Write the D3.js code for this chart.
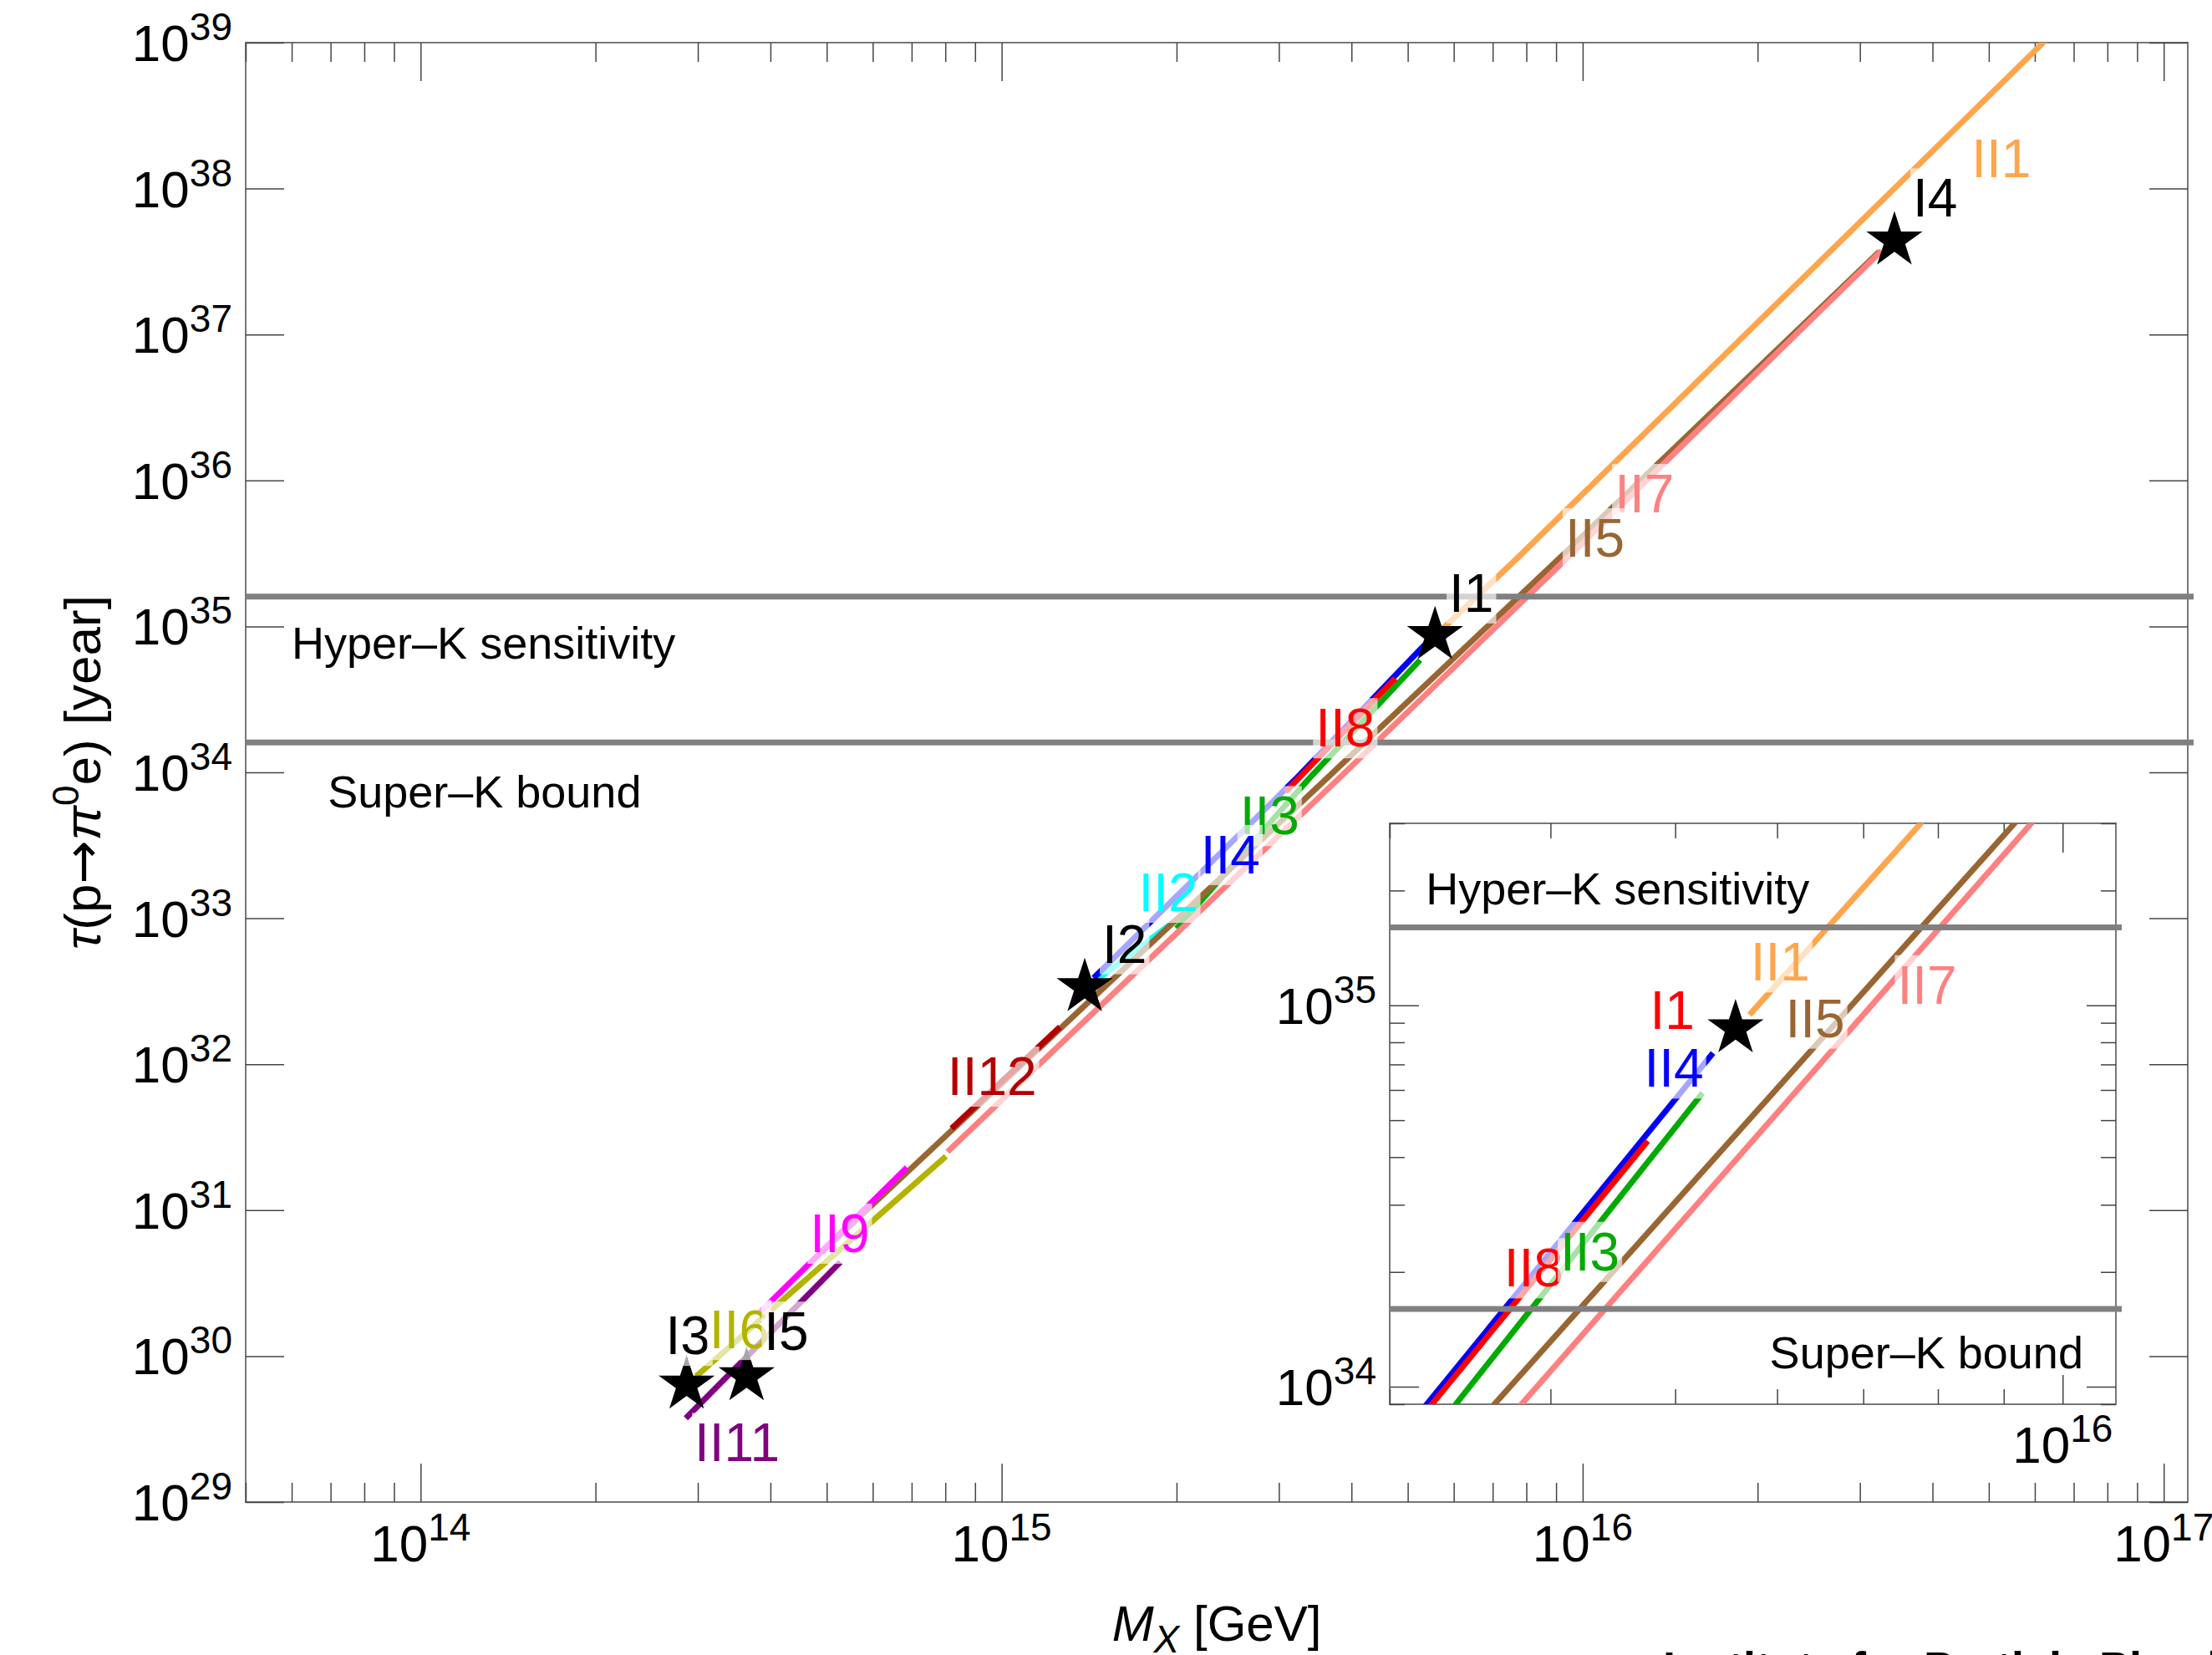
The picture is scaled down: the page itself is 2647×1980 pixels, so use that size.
<!DOCTYPE html>
<html>
<head>
  <meta charset="utf-8">
  <style>
    body { margin: 0; background: #fff; }
    svg { display: block; font-family: "Liberation Sans", Arial, Helvetica, sans-serif; }
    .axis path { display: none; }
    .axis line { stroke: #444; stroke-width: 1.5; }
  </style>
</head>
<body>
<div id="chart"></div>
<script src="https://d3js.org/d3.v7.min.js"></script>
<script>

  // ---------- data (M_X in GeV, tau in years) ----------
  var xRange = [5e13, 1.1e17];
  var yRange = [1e29, 1e39];
  var xRangeInset = [3e15, 1.1e16];
  var yRangeInset = [9e33, 3e35];

  var xMajor = [1e14, 1e15, 1e16, 1e17];
  var yMajor = [1e29, 1e30, 1e31, 1e32, 1e33, 1e34, 1e35, 1e36, 1e37, 1e38, 1e39];
  var xMajorInset = [1e16];
  var yMajorInset = [1e34, 1e35];

  var hyperK = 1.6e35;
  var superK = 1.6e34;

  var II1  = [[5.71e15, 9.44e34], [7.78e15, 3.03e35], [6.31e16, 1.07e39]];
  var II2  = [[1.46e15, 3.8e32], [2.09e15, 1.12e33]];
  var II3  = [[2.0e15, 8.5e32], [3.37e15, 8.93e33], [5.25e15, 5.89e34]];
  var II4  = [[1.44e15, 3.9e32], [3.2e15, 8.93e33], [5.35e15, 7.5e34]];
  var II5  = [[4.9e14, 5.13e30], [5.89e14, 1.02e31], [3.61e15, 8.93e33], [9.2e15, 3.03e35], [3.24e16, 3.7e37]];
  var II6  = [[2.98e14, 7.26e29], [8.02e14, 2.34e31]];
  var II7  = [[8.07e14, 2.51e31], [3.79e15, 8.93e33], [9.48e15, 3.03e35], [3.27e16, 3.75e37]];
  var II8  = [[3.08e15, 7.35e33], [4.76e15, 4.41e34]];
  var II9  = [[3.84e14, 2.0e30], [6.87e14, 1.96e31]];
  var II11 = [[2.86e14, 3.75e29], [5.28e14, 4.41e30]];
  var II12 = [[8.2e14, 3.63e31], [1.26e15, 1.8e32]];

  var curveNames = ["II1", "II2", "II3", "II4", "II5", "II6", "II7", "II8", "II9", "II11", "II12"];
  var curveData  = [II1, II2, II3, II4, II5, II6, II7, II8, II9, II11, II12];
  var curveColor = {
    II1: "#FFA64D", II2: "#00FFFF", II3: "#00AA00", II4: "#0000FF", II5: "#996633", II6: "#B3B300",
    II7: "#FF8080", II8: "#FF0000", II9: "#FF00FF", II11: "#800080", II12: "#B30000"
  };

  // benchmark points (stars)
  var benchNames = ["I1", "I2", "I3", "I4", "I5"];
  var benchM     = [5.57e15, 1.39e15, 2.87e14, 3.44e16, 3.64e14];
  var benchTau   = [8.7e34, 3.37e32, 6.37e29, 4.4e37, 7.26e29];

  // label anchors: [text, M_X, tau, colour]
  var mainLabels = [
    ["II1", 4.67e16, 1.2e38], ["I4", 3.70e16, 6.4e37], ["II7", 1.135e16, 6.04e35], ["II5", 9.33e15, 3.0e35],
    ["I1", 5.89e15, 1.26e35], ["II8", 3.47e15, 1.5e34], ["II3", 2.57e15, 3.75e33], ["II4", 2.20e15, 2.03e33],
    ["II2", 1.72e15, 1.12e33], ["I2", 1.49e15, 4.97e32], ["II12", 8.07e14, 6.15e31], ["II9", 4.68e14, 5.16e30],
    ["I3", 2.64e14, 1.03e30], ["II6", 3.14e14, 1.13e30], ["I5", 3.90e14, 1.1e30], ["II11", 2.96e14, 1.9e29]
  ];
  var insetLabels = [
    ["II1", 5.72e15, 1.16e35], ["I1", 4.78e15, 8.69e34, "#FF0000"], ["II5", 6.09e15, 8.26e34],
    ["II7", 7.44e15, 1.01e35], ["II4", 4.73e15, 6.11e34], ["II8", 3.68e15, 1.83e34], ["II3", 4.07e15, 2.02e34]
  ];
  var mainNotes  = [["Hyper\u2013K sensitivity", 6.0e13, 6.0e34], ["Super\u2013K bound", 6.92e13, 5.74e33]];
  var insetNotes = [["Hyper\u2013K sensitivity", 3.2e15, 1.84e35], ["Super\u2013K bound", 5.92e15, 1.12e34]];

  // ---------- layout ----------
  var W = 2647, H = 1980;
  var box  = {left: 294, right: 2618, top: 51, bottom: 1797};
  var ibox = {left: 1663, right: 2532, top: 985, bottom: 1680};

  var svg = d3.select("#chart").append("svg").attr("width", W).attr("height", H);
  svg.append("rect").attr("width", W).attr("height", H).attr("fill", "#fff");
  var defs = svg.append("defs");

  function isPow10(v) {
    var l = Math.log10(v);
    return Math.abs(l - Math.round(l)) < 1e-6;
  }

  function tickSet(g, axisFn, scale, vals, len, tr) {
    g.append("g").attr("class", "axis").attr("transform", tr)
        .call(axisFn(scale).tickValues(vals).tickSize(-len).tickFormat(function () { return ""; }));
  }

  function powLabel(g, v, px, py, anchor) {
    var t = g.append("text").attr("x", px).attr("y", py)
        .attr("text-anchor", anchor).attr("font-size", 62).attr("fill", "#000");
    t.append("tspan").text("10");
    t.append("tspan").attr("dy", -25).attr("font-size", 46).text(Math.round(Math.log10(v)));
  }

  function drawPanel(g, sx, sy, b, opt) {
    var clipId = opt.id + "Clip";
    defs.append("clipPath").attr("id", clipId).append("rect")
        .attr("x", b.left).attr("y", b.top).attr("width", b.right - b.left).attr("height", b.bottom - b.top);

    g.append("rect").attr("x", b.left).attr("y", b.top)
        .attr("width", b.right - b.left).attr("height", b.bottom - b.top)
        .attr("fill", "#fff").attr("stroke", "#777").attr("stroke-width", 2);

    // ticks: minor + major, on all four sides
    var xMin = sx.ticks().filter(function (v) { return !isPow10(v); });
    var yMin = sy.ticks().filter(function (v) { return !isPow10(v); });
    var xMaj = opt.xMajor, yMaj = opt.yMajor;
    tickSet(g, d3.axisBottom, sx, xMin, opt.small, "translate(0," + b.bottom + ")");
    tickSet(g, d3.axisBottom, sx, xMaj, opt.big, "translate(0," + b.bottom + ")");
    tickSet(g, d3.axisTop, sx, xMin, opt.small, "translate(0," + b.top + ")");
    tickSet(g, d3.axisTop, sx, xMaj, opt.big, "translate(0," + b.top + ")");
    tickSet(g, d3.axisLeft, sy, yMin, opt.small, "translate(" + b.left + ",0)");
    tickSet(g, d3.axisLeft, sy, yMaj, opt.big, "translate(" + b.left + ",0)");
    tickSet(g, d3.axisRight, sy, yMin, opt.small, "translate(" + b.right + ",0)");
    tickSet(g, d3.axisRight, sy, yMaj, opt.big, "translate(" + b.right + ",0)");

    // tick labels
    xMaj.forEach(function (v) { powLabel(g, v, sx(v), opt.xLabelY, "middle"); });
    yMaj.forEach(function (v) { powLabel(g, v, b.left - 16, sy(v) + 22, "end"); });

    // annotation texts
    opt.notes.forEach(function (n) {
      g.append("text").attr("x", sx(n[1])).attr("y", sy(n[2]))
          .attr("font-size", 54).attr("fill", "#000").text(n[0]);
    });

    // curves
    var line = d3.line().x(function (d) { return sx(d[0]); }).y(function (d) { return sy(d[1]); });
    var cg = g.append("g").attr("clip-path", "url(#" + clipId + ")");
    curveData.forEach(function (c, i) {
      cg.append("path").attr("d", line(c)).attr("fill", "none")
          .attr("stroke", curveColor[curveNames[i]]).attr("stroke-width", 7)
          .attr("stroke-linecap", "butt");
    });

    // Hyper-K / Super-K lines
    [hyperK, superK].forEach(function (v) {
      g.append("line").attr("x1", b.left).attr("x2", b.right + 7)
          .attr("y1", sy(v)).attr("y2", sy(v))
          .attr("stroke", "#808080").attr("stroke-width", 7);
    });

    // stars
    var star = d3.symbol().type(d3.symbolStar).size(1400);
    var sg = g.append("g").attr("clip-path", "url(#" + clipId + ")");
    benchM.forEach(function (m, i) {
      sg.append("path").attr("d", star())
          .attr("transform", "translate(" + sx(m) + "," + sy(benchTau[i]) + ")")
          .attr("fill", "#000");
    });

    // curve labels with translucent background
    opt.labels.forEach(function (l) {
      var lg = g.append("g");
      var r = lg.append("rect");
      var col = l[3] || (l[0].indexOf("II") === 0 ? curveColor[l[0]] : "#000");
      var t = lg.append("text").attr("x", sx(l[1])).attr("y", sy(l[2]))
          .attr("font-size", 64).attr("fill", col).text(l[0]);
      var bb = t.node().getBBox();
      r.attr("x", bb.x - 3).attr("y", bb.y).attr("width", bb.width + 6).attr("height", bb.height)
          .attr("fill", "#fff").attr("fill-opacity", 0.65);
    });
  }

  // main panel
  var x = d3.scaleLog().domain(xRange).range([box.left, box.right]);
  var y = d3.scaleLog().domain(yRange).range([box.bottom, box.top]);
  drawPanel(svg.append("g"), x, y, box, {
    id: "main", xMajor: xMajor, yMajor: yMajor, big: 46, small: 23,
    xLabelY: box.bottom + 71, notes: mainNotes, labels: mainLabels
  });

  // inset panel
  var xi = d3.scaleLog().domain(xRangeInset).range([ibox.left, ibox.right]);
  var yi = d3.scaleLog().domain(yRangeInset).range([ibox.bottom, ibox.top]);
  drawPanel(svg.append("g"), xi, yi, ibox, {
    id: "inset", xMajor: xMajorInset, yMajor: yMajorInset, big: 35, small: 18,
    xLabelY: ibox.bottom + 70, notes: insetNotes, labels: insetLabels
  });

  // axis titles
  var xt = svg.append("text").attr("x", (box.left + box.right) / 2).attr("y", box.bottom + 166)
      .attr("text-anchor", "middle").attr("font-size", 60).attr("fill", "#000");
  xt.append("tspan").attr("font-style", "italic").text("M");
  xt.append("tspan").attr("font-style", "italic").attr("font-size", 46).attr("dy", 14).text("X");
  xt.append("tspan").attr("dy", -14).text(" [GeV]");

  var yt = svg.append("text")
      .attr("transform", "translate(120," + (box.top + box.bottom) / 2 + ") rotate(-90)")
      .attr("text-anchor", "middle").attr("font-size", 62).attr("fill", "#000");
  yt.append("tspan").attr("font-style", "italic").text("\u03c4");
  yt.append("tspan").text("(p");
  yt.append("tspan").attr("font-family", "DejaVu Sans").text("\u2192");
  yt.append("tspan").attr("font-style", "italic").text("\u03c0");
  yt.append("tspan").attr("dy", -26).attr("font-size", 44).text("0");
  yt.append("tspan").attr("dy", 26).text("e) [year]");

  // footer text cut by the bottom edge
  svg.append("text").attr("x", 1990).attr("y", H + 34).attr("font-size", 54)
      .attr("font-weight", "bold").attr("fill", "#000").text("Institute for Particle Physics");

</script>
</body>
</html>
